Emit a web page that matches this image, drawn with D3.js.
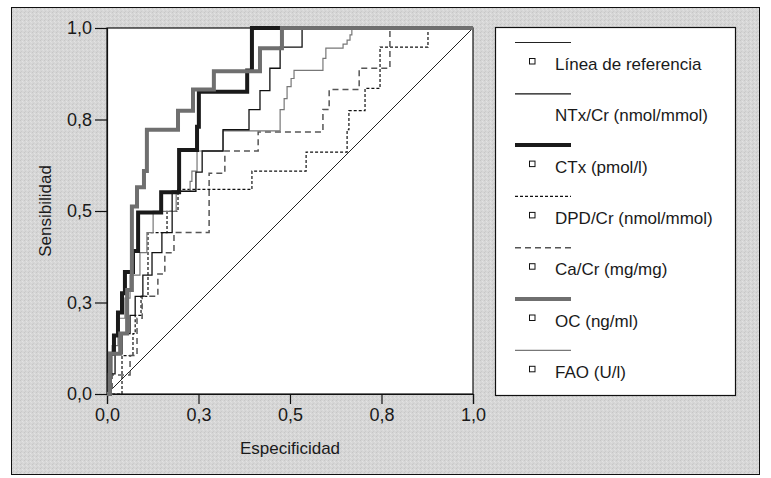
<!DOCTYPE html>
<html>
<head>
<meta charset="utf-8">
<script src="https://cdn.jsdelivr.net/npm/d3@7"></script>
<style>
  body { margin: 0; background: #fff; }
  svg text { font-family: "Liberation Sans", Arial, sans-serif; fill: #1a1a1a; }
</style>
</head>
<body>
<script>
// axis ticks (0,25 steps, labels rounded to one decimal as in the original)
var tickValues = [0, 0.25, 0.5, 0.75, 1];
var tickLabels = ["0,0", "0,3", "0,5", "0,8", "1,0"];

// ROC step curves: 1 - especificidad (fpr) and sensibilidad (tpr)
var ntxFpr = [0, 0.003, 0.022, 0.041, 0.063, 0.077, 0.098, 0.123, 0.150, 0.178, 0.243, 0.260, 0.317, 0.388, 0.418, 0.445, 0.473, 0.533, 1];
var ntxTpr = [0, 0, 0.055, 0.110, 0.165, 0.215, 0.267, 0.325, 0.386, 0.441, 0.554, 0.606, 0.664, 0.722, 0.777, 0.829, 0.890, 0.948, 1];

var ctxFpr = [0, 0.008, 0.019, 0.030, 0.041, 0.049, 0.071, 0.085, 0.148, 0.197, 0.246, 0.251, 0.383, 0.396, 1];
var ctxTpr = [0, 0, 0.110, 0.160, 0.223, 0.275, 0.333, 0.391, 0.496, 0.551, 0.667, 0.730, 0.826, 0.884, 1];

var dpdFpr = [0, 0.041, 0.071, 0.077, 0.093, 0.112, 0.164, 0.194, 0.396, 0.544, 0.656, 0.661, 0.705, 0.746, 0.877, 1];
var dpdTpr = [0, 0, 0.105, 0.165, 0.215, 0.267, 0.441, 0.499, 0.559, 0.609, 0.661, 0.722, 0.774, 0.835, 0.948, 1];

var caFpr = [0, 0.014, 0.063, 0.082, 0.096, 0.139, 0.158, 0.183, 0.279, 0.322, 0.413, 0.590, 0.607, 0.689, 0.773, 1];
var caTpr = [0, 0, 0.052, 0.105, 0.207, 0.267, 0.328, 0.386, 0.441, 0.603, 0.664, 0.716, 0.777, 0.832, 0.890, 1];

var ocFpr = [0, 0.008, 0.036, 0.055, 0.068, 0.082, 0.101, 0.109, 0.194, 0.235, 0.292, 0.418, 0.478, 1];
var ocTpr = [0, 0, 0.110, 0.165, 0.284, 0.512, 0.565, 0.609, 0.722, 0.774, 0.832, 0.882, 0.945, 1];

var faoFpr = [0, 0.003, 0.014, 0.030, 0.049, 0.063, 0.090, 0.109, 0.126, 0.189, 0.227, 0.232, 0.246, 0.317, 0.473, 0.484, 0.492, 0.503, 0.511, 0.590, 0.598, 0.645, 0.656, 0.664, 0.669, 1];
var faoTpr = [0, 0, 0.055, 0.132, 0.207, 0.262, 0.325, 0.386, 0.441, 0.499, 0.554, 0.581, 0.609, 0.664, 0.719, 0.777, 0.807, 0.840, 0.862, 0.884, 0.917, 0.945, 0.956, 0.967, 0.981, 1];

var refFpr = [0, 1];
var refTpr = [0, 1];

// legend entries, in order
var legendNames = ["Línea de referencia", "NTx/Cr (nmol/mmol)", "CTx (pmol/l)", "DPD/Cr (nmol/mmol)", "Ca/Cr (mg/mg)", "OC (ng/ml)", "FAO (U/l)"];
var legendBox = [true, false, true, true, true, true, true];

// line styles per series (same order as legend)
var styles = [
  {color: "#222", width: 1, dash: null},
  {color: "#111", width: 1.3, dash: null},
  {color: "#1a1a1a", width: 4, dash: null},
  {color: "#111", width: 1.2, dash: "3,2"},
  {color: "#555", width: 1.5, dash: "6,4"},
  {color: "#6f6f6f", width: 4, dash: null},
  {color: "#777", width: 1.2, dash: null}
];

var curves = [
  [refFpr, refTpr], [ntxFpr, ntxTpr], [ctxFpr, ctxTpr], [dpdFpr, dpdTpr],
  [caFpr, caTpr], [ocFpr, ocTpr], [faoFpr, faoTpr]
];
// drawing order: reference, dashed, thin, thick (OC on top)
var drawOrder = [0, 3, 4, 6, 1, 2, 5];

var width = 771, height = 478;

var svg = d3.select("body").append("svg")
  .attr("width", width)
  .attr("height", height);

// grainy gray background like the scanned original
var defs = svg.append("defs");
var pat = defs.append("pattern")
  .attr("id", "grain")
  .attr("width", 4).attr("height", 4)
  .attr("patternUnits", "userSpaceOnUse");
pat.append("rect").attr("width", 4).attr("height", 4).attr("fill", "#d6d6d6");
pat.append("rect").attr("x", 0).attr("y", 0).attr("width", 1).attr("height", 1).attr("fill", "#c6c6c6");
pat.append("rect").attr("x", 2).attr("y", 1).attr("width", 1).attr("height", 1).attr("fill", "#e3e3e3");
pat.append("rect").attr("x", 1).attr("y", 3).attr("width", 1).attr("height", 1).attr("fill", "#cbcbcb");
pat.append("rect").attr("x", 3).attr("y", 2).attr("width", 1).attr("height", 1).attr("fill", "#dfdfdf");

svg.append("rect")
  .attr("x", 11.5).attr("y", 7.5)
  .attr("width", 748).attr("height", 467)
  .attr("fill", "url(#grain)")
  .attr("stroke", "#111");

var x = d3.scaleLinear().domain([0, 1]).range([107, 473]);
var y = d3.scaleLinear().domain([0, 1]).range([394, 28]);

// plot area
svg.append("rect")
  .attr("x", x(0)).attr("y", y(1))
  .attr("width", x(1) - x(0)).attr("height", y(0) - y(1))
  .attr("fill", "#fff")
  .attr("stroke", "#111")
  .attr("stroke-width", 1.2);

var fmt = function(d) { return tickLabels[tickValues.indexOf(d)]; };

var gx = svg.append("g")
  .attr("transform", "translate(0," + y(0) + ")")
  .call(d3.axisBottom(x).tickValues(tickValues).tickFormat(fmt).tickSize(10).tickPadding(4));
var gy = svg.append("g")
  .attr("transform", "translate(" + x(0) + ",0)")
  .call(d3.axisLeft(y).tickValues(tickValues).tickFormat(fmt).tickSize(12).tickPadding(3));

[gx, gy].forEach(function(g) {
  g.select(".domain").attr("stroke", "#111").attr("stroke-width", 1.2);
  g.selectAll(".tick line").attr("stroke", "#111").attr("stroke-width", 1.2);
  g.selectAll(".tick text").style("font-size", "18px").attr("fill", "#1a1a1a");
});

svg.append("text")
  .attr("x", (x(0) + x(1)) / 2).attr("y", 454)
  .attr("text-anchor", "middle")
  .style("font-size", "17px")
  .text("Especificidad");

svg.append("text")
  .attr("transform", "translate(51," + (y(0) + y(1)) / 2 + ") rotate(-90)")
  .attr("text-anchor", "middle")
  .style("font-size", "17px")
  .text("Sensibilidad");

// curves
var stepLine = d3.line()
  .x(function(d) { return x(d[0]); })
  .y(function(d) { return y(d[1]); })
  .curve(d3.curveStepBefore);
var straight = d3.line()
  .x(function(d) { return x(d[0]); })
  .y(function(d) { return y(d[1]); });

drawOrder.forEach(function(i) {
  var pts = d3.zip(curves[i][0], curves[i][1]);
  svg.append("path")
    .attr("d", i === 0 ? straight(pts) : stepLine(pts))
    .attr("fill", "none")
    .attr("stroke", styles[i].color)
    .attr("stroke-width", styles[i].width)
    .attr("stroke-dasharray", styles[i].dash)
    .attr("stroke-linejoin", "miter")
    .attr("stroke-linecap", "butt");
});

// legend
var lg = svg.append("g");
lg.append("rect")
  .attr("x", 495.5).attr("y", 27.5)
  .attr("width", 240).attr("height", 368)
  .attr("fill", "#fff")
  .attr("stroke", "#111")
  .attr("stroke-width", 1.2);

var items = lg.selectAll("g.item")
  .data(legendNames)
  .enter()
  .append("g")
  .attr("class", "item")
  .attr("transform", function(d, i) { return "translate(0," + (i * 51.3) + ")"; });

items.append("line")
  .attr("x1", 515).attr("x2", 571)
  .attr("y1", 42.5).attr("y2", 42.5)
  .attr("stroke", function(d, i) { return styles[i].color; })
  .attr("stroke-width", function(d, i) { return styles[i].width; })
  .attr("stroke-dasharray", function(d, i) { return styles[i].dash; });

items.filter(function(d, i) { return legendBox[i]; })
  .append("rect")
  .attr("x", 529.5).attr("y", 58.5)
  .attr("width", 5.5).attr("height", 5.5)
  .attr("fill", "#fff")
  .attr("stroke", "#111")
  .attr("stroke-width", 1);

items.append("text")
  .attr("x", 555).attr("y", 70)
  .style("font-size", "17px")
  .text(function(d) { return d; });
</script>
</body>
</html>
